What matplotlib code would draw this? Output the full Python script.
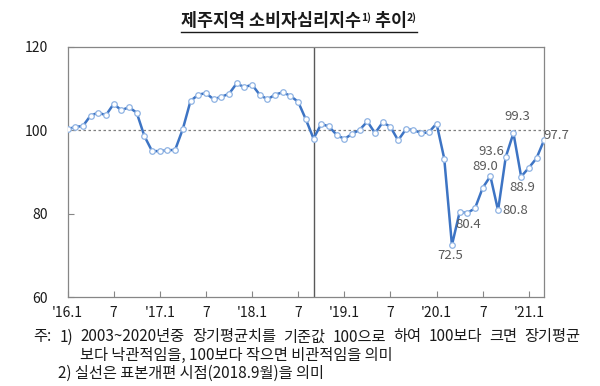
import numpy as np
import matplotlib
matplotlib.use("Agg")
import matplotlib.pyplot as plt
from matplotlib.lines import Line2D

plt.rcParams['font.family'] = ['Noto Sans CJK KR', 'DejaVu Sans']

# monthly index, 2016.1 ~ 2021.3
values = [100.2, 100.8, 101.0, 103.5, 104.2, 103.6, 106.3, 104.8, 105.5, 104.2, 98.6, 95.0,
          95.0, 95.2, 95.3, 100.3, 107.0, 108.5, 108.9, 107.4, 108.0, 108.7, 111.2, 110.3,
          110.9, 108.5, 107.4, 108.5, 109.1, 108.2, 106.8, 102.6, 98.0, 101.5, 100.9, 98.9,
          97.9, 99.1, 100.1, 102.1, 99.3, 101.9, 100.8, 97.6, 100.2, 100.1, 99.3, 99.5,
          101.6, 93.2, 72.5, 80.4, 80.2, 81.3, 86.2, 89.0, 80.8, 93.6, 99.3, 88.9,
          91.0, 93.3, 97.7]
tick_pos = list(range(0, 61, 6))
tick_labels = ["'16.1", "7", "'17.1", "7", "'18.1", "7", "'19.1", "7", "'20.1", "7", "'21.1"]
reform_idx = 32  # 2018.9
labeled = [50, 51, 55, 56, 57, 58, 59, 62]
label_offsets = {50: (-2, -10), 51: (9, -12), 55: (-5, 10), 56: (17, 0),
                 57: (-14, 5), 58: (4, 17), 59: (1, -11), 62: (12, 4)}

x = np.arange(len(values))

fig = plt.figure(figsize=(6, 3.86), dpi=100)
ax = fig.add_axes([0.1125, 0.2298, 0.7945, 0.6492])

ax.axhline(100, color='#7f7f7f', lw=0.9, ls=(0, (2, 2)), zorder=1)
ax.axvline(reform_idx, color='#595959', lw=1.0, zorder=1)
ax.plot(x, values, color='#3d74c4', lw=1.8, marker='o', ms=4,
        mfc='white', mec='#8fb3e3', mew=0.9, zorder=3)

for i in labeled:
    dx, dy = label_offsets[i]
    ax.annotate(f"{values[i]:.1f}", (x[i], values[i]), xytext=(dx, dy),
                textcoords='offset pixels', ha='center', va='center',
                fontsize=9.5, color='#595959', annotation_clip=False)

ax.set_xlim(0, 62)
ax.set_ylim(60, 120)
ax.set_yticks([60, 80, 100, 120])
ax.set_xticks(tick_pos)
ax.set_xticklabels(tick_labels)
ax.tick_params(direction='in', length=4, width=0.8, color='#868686',
               labelsize=10, labelcolor='#1a1a1a')
ax.tick_params(axis='y', pad=14)
ax.tick_params(axis='x', pad=6)
for s in ax.spines.values():
    s.set_color('#868686')
    s.set_linewidth(0.9)

# title with superscripts and underline
renderer = fig.canvas.get_renderer()
parts = [("제주지역 소비자심리지수", 12.5, 0.0), ("1)", 7.5, 0.014),
         (" 추이", 12.5, 0.0), ("2)", 7.5, 0.014)]
ty = 0.933
objs = []
total = 0
for s, size, dy in parts:
    t = fig.text(0, ty + dy, s, fontsize=size, fontweight='bold', va='baseline', color='#1a1a1a')
    w = t.get_window_extent(renderer).width / fig.bbox.width
    objs.append((t, w))
    total += w
start = 0.498 - total / 2
cur = start
for t, w in objs:
    t.set_x(cur)
    cur += w
fig.add_artist(Line2D([start, start + total], [ty - 0.016, ty - 0.016],
                      color='#1a1a1a', lw=1.0, transform=fig.transFigure))

# footnotes
fs = 11
fig.text(33 / 600, 1 - 337 / 386, "주:", fontsize=fs, va='center', color='#1a1a1a')
line1 = "1) 2003~2020년중 장기평균치를 기준값 100으로 하여 100보다 크면 장기평균".split(" ")
words = [fig.text(0, 1 - 337 / 386, w, fontsize=fs, va='center', color='#1a1a1a') for w in line1]
widths = [t.get_window_extent(renderer).width / fig.bbox.width for t in words]
left, right = 60 / 600, 580 / 600
gap = (right - left - sum(widths)) / (len(words) - 1)
cur = left
for t, w in zip(words, widths):
    t.set_x(cur)
    cur += w + gap
fig.text(80 / 600, 1 - 355 / 386, "보다 낙관적임을, 100보다 작으면 비관적임을 의미",
         fontsize=fs, va='center', color='#1a1a1a')
fig.text(58 / 600, 1 - 373 / 386, "2) 실선은 표본개편 시점(2018.9월)을 의미",
         fontsize=fs, va='center', color='#1a1a1a')

fig.savefig('out.png', dpi=100)
